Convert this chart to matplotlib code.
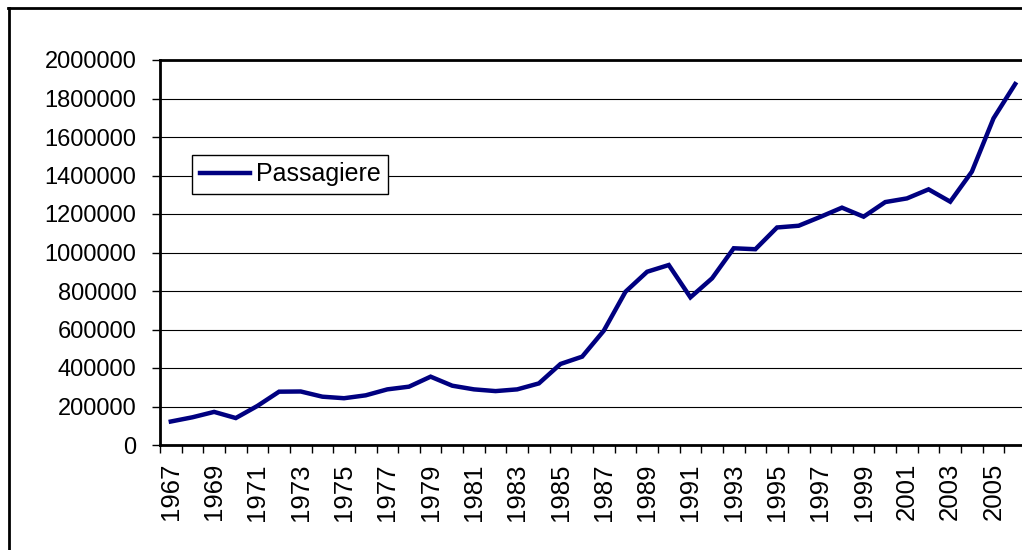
import numpy as np
import matplotlib.pyplot as plt
from matplotlib.lines import Line2D

years = list(range(1967, 2007))
passagiere = [122000, 144000, 172000, 140000, 203000, 277000, 278000, 251000, 243000, 258000,
              289000, 303000, 355000, 308000, 289000, 280000, 289000, 320000, 421000, 459000,
              594000, 796000, 900000, 935000, 767000, 866000, 1022000, 1017000, 1130000, 1139000,
              1185000, 1233000, 1186000, 1262000, 1281000, 1328000, 1264000, 1420000, 1697000, 1875000]
yticks = list(range(0, 2000001, 200000))

plt.rcParams['font.family'] = ['Liberation Sans', 'DejaVu Sans']

W, H = 1022, 550
fig = plt.figure(figsize=(W / 100, H / 100), dpi=100)
ax = fig.add_axes([160 / W, 1 - 445 / H, 866 / W, 385 / H])

x = np.arange(len(years))
ax.plot(x, passagiere, color='#000080', linewidth=3.2, solid_joinstyle='miter', label='Passagiere',
        clip_on=False, zorder=3)

ax.set_xlim(-0.5, len(years) - 0.5)
ax.set_ylim(0, 2000000)
ax.set_yticks(yticks)
ax.set_yticklabels([str(v) for v in yticks], fontsize=17)
ax.yaxis.grid(True, color='black', linewidth=0.8)
ax.set_axisbelow(True)

# category boundaries as major ticks, labels on every other category
ax.set_xticks(np.arange(len(years) + 1) - 0.5)
ax.set_xticklabels([])
ax.set_xticks(x[::2], minor=True)
ax.set_xticklabels([str(y) for y in years[::2]], minor=True, rotation=90, fontsize=18.5)
ax.tick_params(axis='x', which='major', direction='out', length=6, width=1)
ax.tick_params(axis='x', which='minor', length=0, pad=13)
ax.tick_params(axis='y', direction='out', length=6, width=1, pad=11)

for s in ['left', 'bottom', 'top']:
    ax.spines[s].set_linewidth(2)
ax.spines['right'].set_visible(False)

leg = ax.legend(loc='upper left', bbox_to_anchor=(192 / W, 1 - 155 / H),
                bbox_transform=fig.transFigure, fontsize=18, frameon=True,
                fancybox=False, framealpha=1, edgecolor='black', borderpad=0.3,
                handlelength=2.0, handletextpad=0.25, borderaxespad=0)
leg.get_frame().set_linewidth(1)

# outer chart border (cropped on right and bottom)
fig.add_artist(Line2D([8.5 / W, 8.5 / W], [0, 1 - 7.5 / H], transform=fig.transFigure,
                      color='black', linewidth=2))
fig.add_artist(Line2D([8 / W, 1], [1 - 7.5 / H, 1 - 7.5 / H], transform=fig.transFigure,
                      color='black', linewidth=2))

fig.savefig('out.png', dpi=100)
